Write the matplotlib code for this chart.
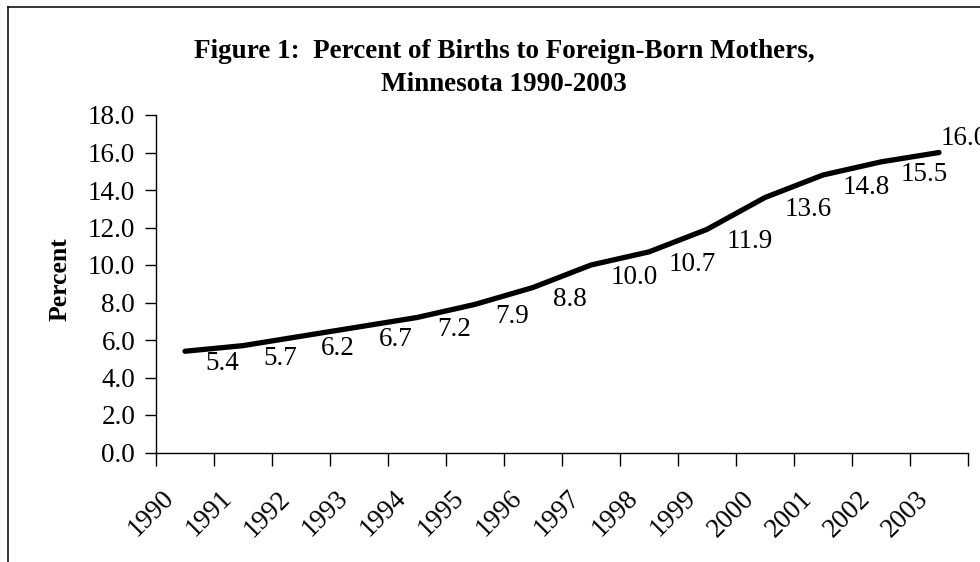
import matplotlib
matplotlib.use('Agg')
import matplotlib.pyplot as plt
import numpy as np
from matplotlib.lines import Line2D
import matplotlib.transforms as mtransforms

years = ['1990', '1991', '1992', '1993', '1994', '1995', '1996',
         '1997', '1998', '1999', '2000', '2001', '2002', '2003']
percent = [5.4, 5.7, 6.2, 6.7, 7.2, 7.9, 8.8, 10.0, 10.7, 11.9, 13.6, 14.8, 15.5, 16.0]
y_ticks = [0, 2, 4, 6, 8, 10, 12, 14, 16, 18]
title = "Figure 1:  Percent of Births to Foreign-Born Mothers,\nMinnesota 1990-2003"
y_label = "Percent"

plt.rcParams['font.family'] = ['Liberation Serif', 'DejaVu Serif']
W, H = 980, 562
fig = plt.figure(figsize=(W / 100, H / 100), dpi=100)
ax = fig.add_axes([156 / W, 1 - 452.5 / H, (968 - 156) / W, (452.5 - 115) / H])

x = np.arange(len(years))
ax.plot(x, percent, color='black', lw=3.8, solid_capstyle='round', solid_joinstyle='round')
ax.set_xlim(-0.5, len(years) - 0.5)
ax.set_ylim(0, 18)

ax.set_yticks(y_ticks)
ax.set_yticklabels([f'{v:.1f}' for v in y_ticks], fontsize=19.5)
ax.tick_params(axis='y', direction='out', length=8, width=1, pad=7)

ax.set_xticks(np.arange(-0.5, len(years)))
ax.set_xticklabels([])
ax.tick_params(axis='x', which='major', direction='out', length=9, width=1)
ax.set_xticks(x, minor=True)
ax.set_xticklabels(years, minor=True, rotation=45, ha='right', va='top', fontsize=19.5)
ax.tick_params(axis='x', which='minor', length=0, pad=24)
for lab in ax.get_xticklabels(minor=True):
    lab.set_transform(lab.get_transform() + mtransforms.ScaledTranslation(-6 / 100, 0, fig.dpi_scale_trans))

for s in ['top', 'right']:
    ax.spines[s].set_visible(False)
for s in ['left', 'bottom']:
    ax.spines[s].set_linewidth(1)
ax.patch.set_alpha(0)

for i, v in enumerate(percent):
    if i == len(percent) - 1:
        ax.annotate(f'{v:.1f}', (i, v), xytext=(1, 10), textcoords='offset points',
                    ha='left', va='center', fontsize=19.5, annotation_clip=False)
    else:
        ax.annotate(f'{v:.1f}', (i, v), xytext=(14.4, -9), textcoords='offset points',
                    ha='left', va='center', fontsize=19.5, annotation_clip=False)

fig.text(504 / W, 1 - 39 / H, title, ha='center', va='top', fontsize=19.5,
         fontweight='bold', linespacing=1.42)
fig.text(60 / W, 1 - 279 / H, y_label, rotation=90, ha='center', va='center',
         fontsize=18.5, fontweight='bold')

fig.add_artist(Line2D([8 / W, 8 / W], [0, 1 - 7 / H], transform=fig.transFigure,
                      color='black', lw=1.1))
fig.add_artist(Line2D([8 / W, 1], [1 - 7 / H, 1 - 7 / H], transform=fig.transFigure,
                      color='black', lw=1.1))

fig.savefig('out.png', dpi=100)
